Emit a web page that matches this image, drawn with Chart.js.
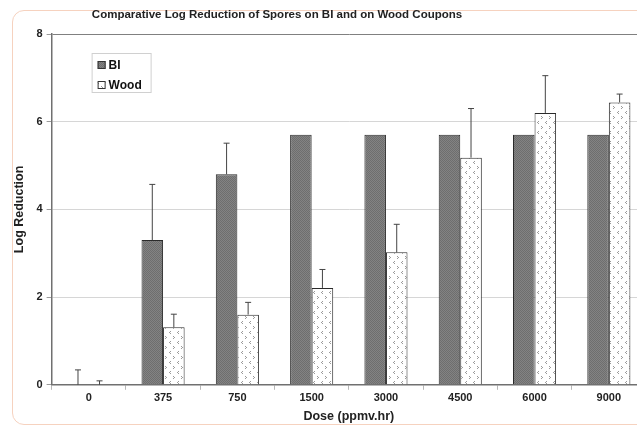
<!DOCTYPE html>
<html lang="en">
<head>
<meta charset="UTF-8">
<title>Comparative Log Reduction of Spores on BI and on Wood Coupons</title>
<script src="https://cdn.jsdelivr.net/npm/chart.js"></script>
<style>
    html, body { margin: 0; background: #fff; width: 637px; height: 428px; overflow: hidden; }
    body { position: relative; }
    #frame { position: absolute; left: 12px; top: 10px; width: 800px; height: 413px;
             border: 1px solid #f6d2bf; border-radius: 12px; }
    #title { position: absolute; left: 0; width: 554px; top: 8px; text-align: center;
             font: bold 11.5px "Liberation Sans", Arial, sans-serif; color: #222; }
    #chart { position: absolute; left: 0; top: 0; }
</style>
</head>
<body>
<div id="frame"></div>
<canvas id="chart" width="660" height="428"></canvas>
<div id="title">Comparative Log Reduction of Spores on BI and on Wood Coupons</div>
<script>
    // data
    const doses = ['0', '375', '750', '1500', '3000', '4500', '6000', '9000'];
    const biValues = [0, 3.3, 4.8, 5.7, 5.7, 5.7, 5.7, 5.7];
    const biErrors = [0.34, 1.27, 0.71, 0, 0, 0, 0, 0];
    const woodValues = [0, 1.31, 1.6, 2.21, 3.02, 5.18, 6.2, 6.44];
    const woodErrors = [0.09, 0.3, 0.28, 0.42, 0.64, 1.12, 0.85, 0.19];
    const yTicks = [0, 2, 4, 6, 8];

    const FONT = '"Liberation Sans", Arial, sans-serif';

    // fill patterns like the old spreadsheet hatches
    function makeBiPattern() {
        let c = document.createElement('canvas');
        c.width = 2; c.height = 2;
        let x = c.getContext('2d');
        x.fillStyle = '#838383'; x.fillRect(0, 0, 2, 2);
        x.fillStyle = '#6e6e6e'; x.fillRect(0, 0, 1, 1); x.fillRect(1, 1, 1, 1);
        return x.createPattern(c, 'repeat');
    }
    function makeWoodPattern() {
        let c = document.createElement('canvas');
        c.width = 8; c.height = 10;
        let x = c.getContext('2d');
        x.fillStyle = '#ffffff'; x.fillRect(0, 0, 8, 10);
        x.fillStyle = '#9a9a9a';
        x.fillRect(2, 1, 1, 1); x.fillRect(1, 2, 1, 1); x.fillRect(2, 3, 1, 1);
        x.fillRect(5, 6, 1, 1); x.fillRect(6, 7, 1, 1); x.fillRect(5, 8, 1, 1);
        return x.createPattern(c, 'repeat');
    }
    const biFill = makeBiPattern();
    const woodFill = makeWoodPattern();

    // plus-only error bars with a small cap
    const errorBars = {
        id: 'errorBars',
        afterDatasetsDraw(chart) {
            let ctx = chart.ctx, y = chart.scales.y;
            let errs = [biErrors, woodErrors];
            chart.data.datasets.forEach((ds, i) => {
                chart.getDatasetMeta(i).data.forEach((bar, j) => {
                    let e = errs[i][j];
                    if (!e) return;
                    let top = y.getPixelForValue(ds.data[j] + e);
                    ctx.save();
                    ctx.strokeStyle = '#444';
                    ctx.lineWidth = 1;
                    ctx.beginPath();
                    ctx.moveTo(bar.x, bar.y);
                    ctx.lineTo(bar.x, top);
                    ctx.moveTo(bar.x - 3, top);
                    ctx.lineTo(bar.x + 3, top);
                    ctx.stroke();
                    ctx.restore();
                });
            });
        }
    };

    // legend box inside the plot, top left
    const boxLegend = {
        id: 'boxLegend',
        afterDraw(chart) {
            let ctx = chart.ctx, a = chart.chartArea;
            let bx = a.left + 40, by = a.top + 19;
            ctx.save();
            ctx.fillStyle = '#fff';
            ctx.fillRect(bx, by, 59, 39);
            ctx.strokeStyle = '#d0d0d0';
            ctx.strokeRect(bx + 0.5, by + 0.5, 59, 39);
            chart.data.datasets.forEach((ds, i) => {
                let sy = by + 8 + i * 20;
                ctx.fillStyle = ds.backgroundColor;
                ctx.fillRect(bx + 6, sy, 8, 8);
                ctx.strokeStyle = '#333';
                ctx.strokeRect(bx + 6.5, sy + 0.5, 7, 7);
                ctx.fillStyle = '#111';
                ctx.font = 'bold 12px ' + FONT;
                ctx.textBaseline = 'middle';
                ctx.fillText(ds.label, bx + 17, sy + 4.5);
            });
            ctx.restore();
        }
    };

    new Chart(document.getElementById('chart'), {
        type: 'bar',
        data: {
            labels: doses,
            datasets: [
                { label: 'BI', data: biValues, backgroundColor: biFill,
                  borderColor: '#2a2a2a', borderWidth: 1 },
                { label: 'Wood', data: woodValues, backgroundColor: woodFill,
                  borderColor: '#2a2a2a', borderWidth: 1 }
            ]
        },
        options: {
            responsive: false,
            animation: false,
            layout: { padding: { top: 34, right: 14, bottom: 4, left: 12 } },
            datasets: { bar: { categoryPercentage: 0.58, barPercentage: 1.0 } },
            plugins: {
                legend: { display: false },
                title: { display: false },
                tooltip: { enabled: false }
            },
            scales: {
                x: {
                    grid: { drawOnChartArea: false, tickLength: 5, color: '#b8b8b8' },
                    border: { color: '#707070', width: 1.5 },
                    ticks: { color: '#222', font: { family: FONT, weight: 'bold', size: 11 }, padding: 2 },
                    title: { display: true, text: 'Dose (ppmv.hr)', color: '#222',
                             font: { family: FONT, weight: 'bold', size: 12.5 }, padding: { top: 2, bottom: 0 } }
                },
                y: {
                    min: 0, max: 8,
                    afterBuildTicks: (s) => { s.ticks = yTicks.map(v => ({ value: v })); },
                    grid: {
                        color: (c) => c.tick && c.tick.value === 8 ? '#808080' : '#d6d6d6',
                        tickColor: '#9a9a9a', tickLength: 5
                    },
                    border: { color: '#707070', width: 1.5 },
                    ticks: { color: '#222', font: { family: FONT, weight: 'bold', size: 11 }, padding: 4 },
                    title: { display: true, text: 'Log Reduction', color: '#222',
                             font: { family: FONT, weight: 'bold', size: 12.5 }, padding: { top: 0, bottom: 5.5 } }
                }
            }
        },
        plugins: [errorBars, boxLegend]
    });
</script>
</body>
</html>
